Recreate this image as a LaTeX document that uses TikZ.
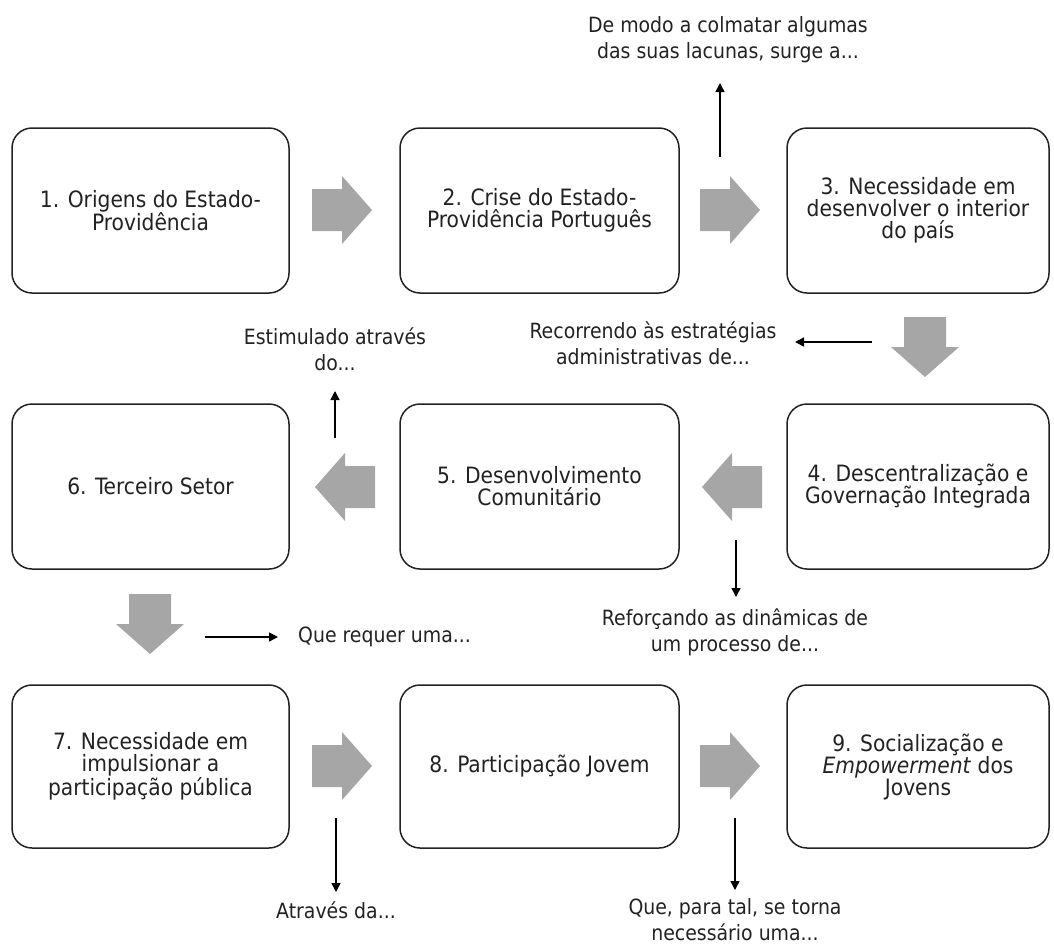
\documentclass[tikz,border=0pt]{standalone}
\usepackage{fontspec}
\setmainfont{DejaVu Sans Condensed}
\usetikzlibrary{arrows.meta}
\definecolor{arrowgray}{HTML}{A6A6A6}
\definecolor{inkgray}{HTML}{222222}
\tikzset{
    stage/.style={draw=inkgray, line width=1.5pt, rounded corners=20pt, align=center,
        text=inkgray, inner sep=0pt, font=\fontsize{22.5}{22}\selectfont},
    remark/.style={align=center, text=inkgray, inner sep=0pt, font=\fontsize{21}{26}\selectfont},
    hint/.style={-{Triangle[length=9pt,width=9pt]}, line width=1.4pt},
    fatarrow/.pic={\fill[arrowgray] (-30,-21) -- (0,-21) -- (0,-34) -- (30,0) -- (0,34) -- (0,21) -- (-30,21) -- cycle;}
}
\begin{document}
\begin{tikzpicture}[x=1pt,y=-1pt]
    \useasboundingbox (0,0) rectangle (1054,951);
    %draw stages
    \node[stage, minimum width=277pt, minimum height=165pt] (b1) at (150.5,210.5) {1. Origens do Estado-\\Providência};
    \node[stage, minimum width=279pt, minimum height=165pt] (b2) at (539.5,210.5) {2. Crise do Estado-\\Providência Português};
    \node[stage, minimum width=262pt, minimum height=165pt] (b3) at (918,210.5) {3. Necessidade em\\desenvolver o interior\\do país};
    \node[stage, minimum width=262pt, minimum height=165pt] (b4) at (918,486.5) {4. Descentralização e\\Governação Integrada};
    \node[stage, minimum width=279pt, minimum height=165pt] (b5) at (539.5,486.5) {5. Desenvolvimento\\Comunitário};
    \node[stage, minimum width=277pt, minimum height=165pt] (b6) at (150.5,486.5) {6. Terceiro Setor};
    \node[stage, minimum width=277pt, minimum height=163pt] (b7) at (150.5,766.5) {7. Necessidade em\\impulsionar a\\participação pública};
    \node[stage, minimum width=279pt, minimum height=163pt] (b8) at (539.5,766.5) {8. Participação Jovem};
    \node[stage, minimum width=262pt, minimum height=163pt] (b9) at (918,766.5) {9. Socialização e\\\textit{Empowerment} dos\\Jovens};
    %draw block arrows
    \foreach \x/\y/\r in {342/210/0, 730/210/0, 925/347/-90, 732/487/180, 345/487/180, 150/624/-90, 342/766/0, 730/766/0}
        {%
            \pic[rotate=\r] at (\x,\y) {fatarrow};
        }
    %draw remarks
    \node[remark] (r2) at (728,40) {De modo a colmatar algumas\\das suas lacunas, surge a...};
    \node[remark] (r3) at (653,343) {Recorrendo às estratégias\\administrativas de...};
    \node[remark] (r5) at (335,349) {Estimulado através\\do...};
    \node[remark] (r4) at (735,632) {Reforçando as dinâmicas de\\um processo de...};
    \node[remark, anchor=west] (r6) at (298,637) {Que requer uma...};
    \node[remark] (r7) at (336,910) {Através da...};
    \node[remark] (r8) at (735,920) {Que, para tal, se torna\\necessário uma...};
    %draw hints
    \coordinate (h2a) at (720,157); \coordinate (h2b) at (720,83);
    \coordinate (h3a) at (872,342); \coordinate (h3b) at (795,342);
    \coordinate (h5a) at (335,438); \coordinate (h5b) at (335,391);
    \coordinate (h4a) at (736,540); \coordinate (h4b) at (736,597);
    \coordinate (h6a) at (205,637); \coordinate (h6b) at (278,637);
    \coordinate (h7a) at (336,818); \coordinate (h7b) at (336,892);
    \coordinate (h8a) at (735,818); \coordinate (h8b) at (735,890);
    \foreach \h in {h2,h3,h5,h4,h6,h7,h8}
        {%
            \draw[hint] (\h a) -- (\h b);
        }
\end{tikzpicture}
\end{document}
